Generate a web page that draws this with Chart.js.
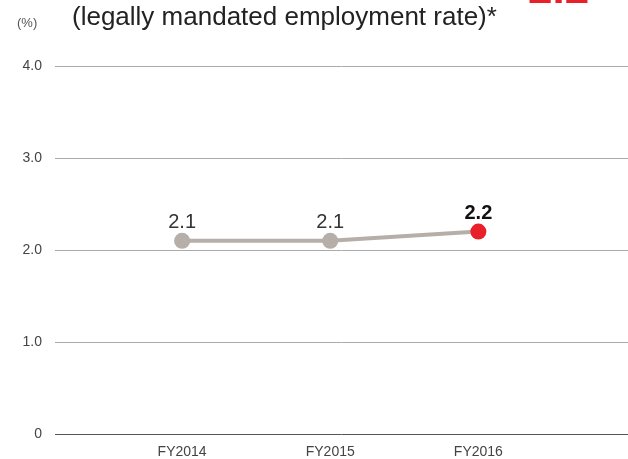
<!DOCTYPE html>
<html>
<head>
<meta charset="utf-8">
<script src="https://cdn.jsdelivr.net/npm/chart.js@4"></script>
<style>
  html, body { margin: 0; padding: 0; background: #fff; }
  #wrap { width: 628px; height: 459px; position: relative; overflow: hidden; }
</style>
</head>
<body>
<div id="wrap"><canvas id="chart" width="636" height="459"></canvas></div>
<script>
const years = ['FY2014', 'FY2015', 'FY2016'];
const rates = [2.1, 2.1, 2.2];
const rateLabels = ['2.1', '2.1', '2.2'];
const yTicks = [0, 1, 2, 3, 4];

const FONT = '"Liberation Sans", Arial, sans-serif';
const grey = '#b6aea8';
const red = '#e8202a';

// heading, unit and value labels are drawn straight onto the canvas
const annotate = {
  id: 'annotate',
  afterDraw(chart) {
    const ctx = chart.ctx;
    ctx.save();
    ctx.fillStyle = '#222';
    ctx.font = '26px ' + FONT;
    ctx.textAlign = 'left';
    ctx.textBaseline = 'alphabetic';
    ctx.fillText('(legally mandated employment rate)*', 72, 25);

    ctx.fillStyle = red;
    ctx.font = 'bold 44px ' + FONT;
    ctx.fillText('2.2', 528, 3);

    ctx.fillStyle = '#555';
    ctx.font = '13px ' + FONT;
    ctx.fillText('(%)', 17, 27);

    const meta = chart.getDatasetMeta(0);
    ctx.textAlign = 'center';
    meta.data.forEach((pt, i) => {
      const last = i === rates.length - 1;
      ctx.fillStyle = last ? '#111' : '#333';
      ctx.font = (last ? 'bold ' : '') + '20px ' + FONT;
      ctx.fillText(rateLabels[i], pt.x, pt.y - 13);
    });
    ctx.restore();
  }
};

new Chart(document.getElementById('chart'), {
  type: 'line',
  data: {
    datasets: [{
      data: rates.map((v, i) => ({ x: i, y: v })),
      borderColor: grey,
      borderWidth: 4,
      pointRadius: 8,
      pointHoverRadius: 8,
      pointBorderWidth: 0,
      pointBackgroundColor: rates.map((v, i) => i === rates.length - 1 ? red : grey),
      tension: 0
    }]
  },
  options: {
    responsive: false,
    animation: false,
    layout: { padding: { top: 66, right: 0, left: 0, bottom: 0 } },
    plugins: { legend: { display: false }, tooltip: { enabled: false } },
    scales: {
      x: {
        type: 'linear',
        min: -0.858,
        max: 3.01,
        afterBuildTicks(scale) {
          scale.ticks = years.map((y, i) => ({ value: i }));
        },
        ticks: {
          autoSkip: false,
          maxRotation: 0,
          color: '#444',
          font: { family: FONT, size: 14 },
          padding: 10,
          callback: (v) => years[v] ?? ''
        },
        grid: { display: false, drawTicks: false },
        border: { display: false },
        afterFit(scale) { scale.height = 25; }
      },
      y: {
        min: 0,
        max: 4,
        afterBuildTicks(scale) {
          scale.ticks = yTicks.map(v => ({ value: v }));
        },
        ticks: {
          color: '#444',
          font: { family: FONT, size: 14 },
          padding: 13,
          callback: (v) => v === 0 ? '0' : v.toFixed(1)
        },
        grid: {
          drawTicks: false,
          color: (c) => c.tick && c.tick.value === 0 ? '#555' : '#aaa',
          lineWidth: 1
        },
        border: { display: false },
        afterFit(scale) { scale.width = 55; }
      }
    }
  },
  plugins: [annotate]
});
</script>
</body>
</html>
